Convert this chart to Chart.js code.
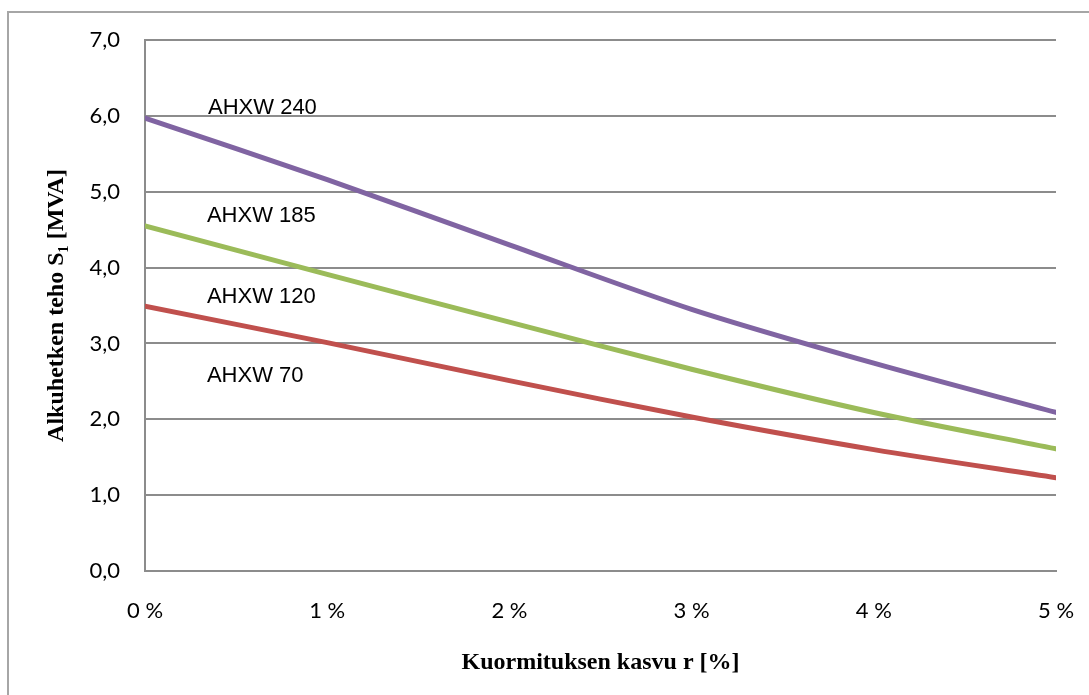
<!DOCTYPE html>
<html>
<head>
<meta charset="utf-8">
<script src="https://cdn.jsdelivr.net/npm/chart.js@4/dist/chart.umd.min.js"></script>
<style>
  html, body { margin: 0; padding: 0; background: #ffffff; }
  #wrap { width: 1089px; height: 695px; position: relative; }
</style>
</head>
<body>
<div id="wrap"><canvas id="c" width="1089" height="695"></canvas></div>
<script>
// ---- data ----
const growthPercent = [0, 1, 2, 3, 4, 5];
const seriesPurple = [5.97, 5.16, 4.30, 3.45, 2.74, 2.09];
const seriesGreen  = [4.55, 3.91, 3.28, 2.66, 2.09, 1.61];
const seriesRed    = [3.49, 3.01, 2.51, 2.03, 1.60, 1.23];
const labelTexts   = ['AHXW 240', 'AHXW 185', 'AHXW 120', 'AHXW 70'];
const labelX       = [0.346, 0.34, 0.34, 0.34];
const labelY       = [6.02, 4.60, 3.53, 2.49];
const yTitle = 'Alkuhetken teho S\u2081 [MVA]';
const xTitle = 'Kuormituksen kasvu r [%]';

const toPoints = arr => arr.map((v, i) => ({ x: growthPercent[i], y: v }));

const frameAndLabels = {
  id: 'frameAndLabels',
  beforeDraw(chart) {
    const ctx = chart.ctx;
    ctx.save();
    ctx.strokeStyle = '#a6a6a6';
    ctx.lineWidth = 2;
    ctx.beginPath();
    ctx.moveTo(8, chart.height + 5);
    ctx.lineTo(8, 12);
    ctx.lineTo(chart.width + 5, 12);
    ctx.stroke();
    ctx.restore();
  },
  afterDatasetsDraw(chart) {
    const ctx = chart.ctx;
    const xs = chart.scales.x, ys = chart.scales.y;
    ctx.save();
    ctx.fillStyle = '#000000';
    ctx.font = '22px "Liberation Sans", Arial, sans-serif';
    ctx.textAlign = 'left';
    ctx.textBaseline = 'alphabetic';
    labelTexts.forEach((t, i) => {
      ctx.fillText(t, xs.getPixelForValue(labelX[i]), ys.getPixelForValue(labelY[i]));
    });
    ctx.restore();
  }
};

const lineDs = (label, data, color) => ({
  label, data: toPoints(data),
  borderColor: color, backgroundColor: color,
  borderWidth: 5, pointRadius: 0, tension: 0.3,
  borderCapStyle: 'round', fill: false
});

new Chart(document.getElementById('c'), {
  type: 'line',
  data: {
    datasets: [
      lineDs('AHXW 240', seriesPurple, '#8064A2'),
      lineDs('AHXW 185', seriesGreen, '#9BBB59'),
      lineDs('AHXW 120', seriesRed, '#C0504D')
    ]
  },
  options: {
    responsive: false,
    animation: false,
    layout: { padding: { left: 0, top: 40, right: 33, bottom: 0 } },
    plugins: { legend: { display: false }, tooltip: { enabled: false } },
    scales: {
      x: {
        type: 'linear', min: 0, max: 5,
        afterFit(s) { s.height = 124; s.paddingLeft = 0; s.paddingRight = 0; },
        ticks: {
          stepSize: 1, padding: 27, color: '#000000',
          font: { family: 'Lato, "Open Sans", sans-serif', size: 22 },
          callback: v => v + ' %'
        },
        grid: { display: false, drawTicks: false },
        border: { display: true, color: '#8c8c8c', width: 2 },
        title: {
          display: true, text: xTitle, color: '#000000',
          font: { family: '"Liberation Serif", "Times New Roman", serif', size: 24, weight: 'bold' },
          padding: { top: 0, bottom: 18 }
        }
      },
      y: {
        min: 0, max: 7,
        afterFit(s) { s.width = 145; s.paddingTop = 0; s.paddingBottom = 0; },
        ticks: {
          stepSize: 1, padding: 25, color: '#000000',
          font: { family: 'Lato, "Open Sans", sans-serif', size: 22 },
          callback: v => v.toFixed(1).replace('.', ',')
        },
        grid: { color: '#8c8c8c', lineWidth: 2, drawTicks: false },
        border: { display: true, color: '#8c8c8c', width: 2 },
        title: {
          display: true, text: yTitle, color: '#000000',
          font: { family: '"Liberation Serif", "Times New Roman", serif', size: 24, weight: 'bold' },
          padding: { top: 42, bottom: 0 }
        }
      }
    }
  },
  plugins: [frameAndLabels]
});
</script>
</body>
</html>
